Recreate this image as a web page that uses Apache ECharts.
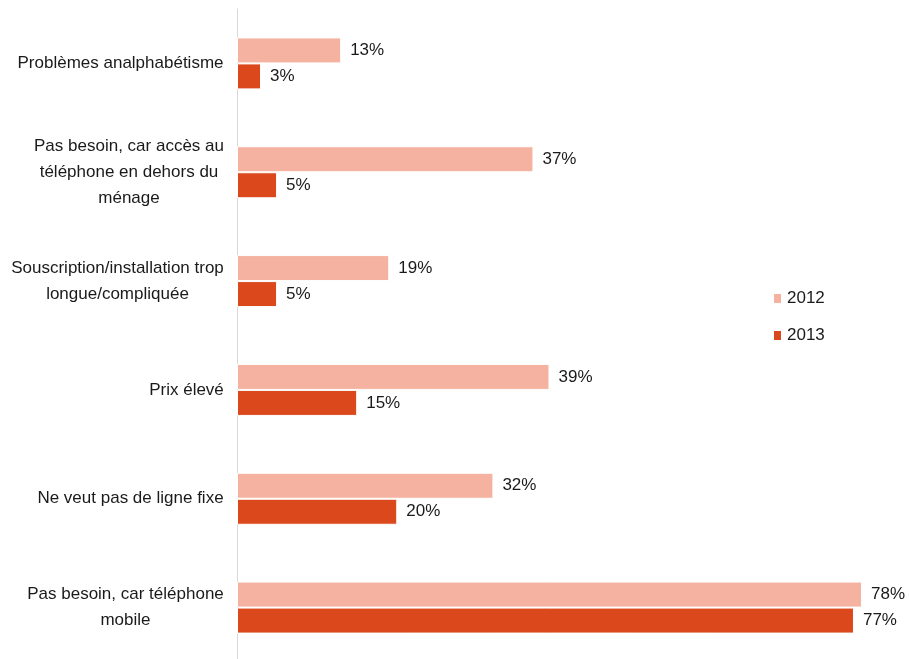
<!DOCTYPE html>
<html>
<head>
<meta charset="utf-8">
<script src="https://cdn.jsdelivr.net/npm/echarts@6/dist/echarts.min.js"></script>
<style>
  html, body { margin: 0; padding: 0; background: #fff; }
  #chart { width: 909px; height: 659px; }
</style>
</head>
<body>
<div id="chart"></div>
<script>
const categories = [
  'Problèmes analphabétisme',
  'Pas besoin, car accès au\ntéléphone en dehors du\nménage',
  'Souscription/installation trop\nlongue/compliquée',
  'Prix élevé',
  'Ne veut pas de ligne fixe',
  'Pas besoin, car téléphone\nmobile'
]
const values2012 = [13, 37, 19, 39, 32, 78]
const values2013 = [3, 5, 5, 15, 20, 77]

const FONT = '"Liberation Sans", Arial, sans-serif'
const FONT_SIZE = 17

// largeur de chaque bloc de libellé, pour centrer les lignes
const ctx = document.createElement('canvas').getContext('2d')
ctx.font = FONT_SIZE + 'px ' + FONT
const rich = {}
categories.forEach((c, i) => {
  let w = 0
  c.split('\n').forEach(l => { w = Math.max(w, ctx.measureText(l).width) })
  rich['c' + i] = { width: Math.ceil(w), align: 'center', fontSize: FONT_SIZE, fontFamily: FONT, color: '#1a1a1a', lineHeight: 26 }
})

const chart = echarts.init(document.getElementById('chart'))
chart.setOption({
  animation: false,
  textStyle: { fontFamily: FONT },
  grid: { left: 237, top: 9, width: 641, height: 653, outerBoundsMode: 'none', containLabel: false },
  legend: {
    orient: 'vertical',
    left: 772,
    top: 290,
    padding: 0,
    icon: 'rect',
    itemWidth: 9,
    itemHeight: 11,
    itemGap: 20,
    textStyle: { fontSize: FONT_SIZE, color: '#1a1a1a', fontFamily: FONT },
    data: ['2012', '2013']
  },
  xAxis: {
    type: 'value',
    min: 0,
    max: 80,
    show: false
  },
  yAxis: {
    type: 'category',
    inverse: true,
    data: categories,
    axisLine: { lineStyle: { color: '#d9d9d9', width: 1 } },
    axisTick: { show: false },
    axisLabel: {
      margin: 13,
      align: 'right',
      formatter: (value, index) => value.split('\n').map(l => '{c' + index + '|' + l + '}').join('\n'),
      rich: rich
    }
  },
  series: [
    {
      name: '2012',
      type: 'bar',
      data: values2012,
      barWidth: 26,
      barGap: '0%',
      itemStyle: { color: '#f5b2a0', borderColor: '#fff', borderWidth: 1 },
      label: {
        show: true,
        position: 'right',
        distance: 9,
        formatter: '{c}%',
        fontSize: FONT_SIZE,
        fontFamily: FONT,
        color: '#1a1a1a'
      }
    },
    {
      name: '2013',
      type: 'bar',
      data: values2013,
      barWidth: 26,
      itemStyle: { color: '#da481c', borderColor: '#fff', borderWidth: 1 },
      label: {
        show: true,
        position: 'right',
        distance: 9,
        formatter: '{c}%',
        fontSize: FONT_SIZE,
        fontFamily: FONT,
        color: '#1a1a1a'
      }
    }
  ]
})
</script>
</body>
</html>
